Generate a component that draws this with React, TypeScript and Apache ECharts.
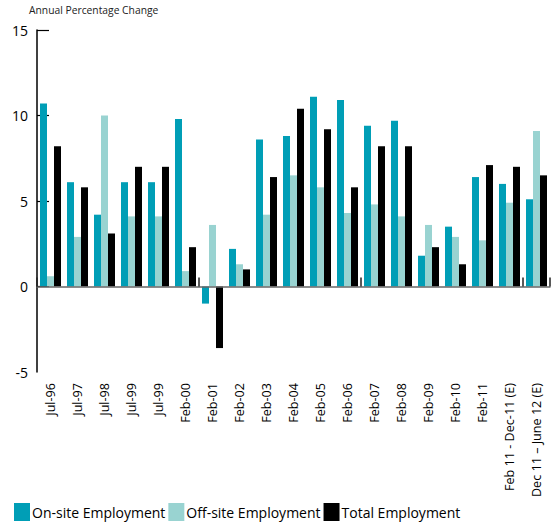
import React, { useEffect, useRef } from "react";
import * as echarts from "echarts";

const categories = [
  "Jul-96", "Jul-97", "Jul-98", "Jul-99", "Jul-99", "Feb-00", "Feb-01", "Feb-02",
  "Feb-03", "Feb-04", "Feb-05", "Feb-06", "Feb-07", "Feb-08", "Feb-09", "Feb-10",
  "Feb-11", "Feb 11 - Dec-11 (E)", "Dec 11 \u2013 June 12 (E)",
];
const onSite = [10.7, 6.1, 4.2, 6.1, 6.1, 9.8, -1.0, 2.2, 8.6, 8.8, 11.1, 10.9, 9.4, 9.7, 1.8, 3.5, 6.4, 6.0, 5.1];
const offSite = [0.6, 2.9, 10.0, 4.1, 4.1, 0.9, 3.6, 1.3, 4.2, 6.5, 5.8, 4.3, 4.8, 4.1, 3.6, 2.9, 2.7, 4.9, 9.1];
const total = [8.2, 5.8, 3.1, 7.0, 7.0, 2.3, -3.6, 1.0, 6.4, 10.4, 9.2, 5.8, 8.2, 8.2, 2.3, 1.3, 7.1, 7.0, 6.5];
const yTicks = [0, 5, 10, 15];

const FONT = "'Open Sans', 'Noto Sans', sans-serif";

export default function App() {
  const ref = useRef<HTMLDivElement>(null);
  useEffect(() => {
    if (!ref.current) return;
    const chart = echarts.init(ref.current, null, { renderer: "svg" });
    chart.setOption({
      animation: false,
      textStyle: { fontFamily: FONT },
      title: {
        text: "Annual Percentage Change",
        left: 29,
        top: 5,
        padding: 0,
        textStyle: { fontSize: 10.3, fontWeight: "normal", color: "#222", fontFamily: FONT },
      },
      legend: {
        left: 14,
        top: 503,
        padding: 0,
        icon: "rect",
        itemWidth: 16,
        itemHeight: 18,
        itemGap: 3,
        textStyle: { fontSize: 14, color: "#000", fontFamily: FONT, padding: [0, 0, 0, -3] },
        data: ["On-site Employment", "Off-site Employment", "Total Employment"],
      },
      grid: [
        { left: 37, right: 7, top: 30, bottom: 154 },
        { left: 37, right: 7, top: 30, bottom: 154 },
      ],
      xAxis: [
        {
          type: "category",
          gridIndex: 0,
          data: categories,
          z: 10,
          axisLine: { onZero: true, lineStyle: { color: "#666", width: 1.5 } },
          axisTick: { show: true, inside: true, length: 9, lineStyle: { color: "#222", width: 1.5 } },
          axisLabel: { show: false },
        },
        {
          type: "category",
          gridIndex: 1,
          data: categories,
          position: "bottom",
          axisLine: { show: false, onZero: false },
          axisTick: { show: false },
          axisLabel: { rotate: 90, fontSize: 12.6, color: "#000", margin: 11, interval: 0, fontFamily: FONT },
        },
      ],
      yAxis: [
        {
          type: "value",
          gridIndex: 0,
          min: -5,
          max: 15,
          interval: 5,
          axisLine: { show: true, lineStyle: { color: "#000", width: 1.5 } },
          axisTick: { show: true, inside: true, length: 12, customValues: yTicks, lineStyle: { color: "#000", width: 1.2 } },
          splitLine: { show: false },
          axisLabel: { fontSize: 14, color: "#000", margin: 9, fontFamily: FONT },
        },
        { type: "value", gridIndex: 1, min: -5, max: 15, show: false },
      ],
      series: [
        { name: "On-site Employment", type: "bar", data: onSite, barWidth: 7, barGap: "0%", itemStyle: { color: "#009EB6" } },
        { name: "Off-site Employment", type: "bar", data: offSite, barWidth: 7, barGap: "0%", itemStyle: { color: "#99D3D1" } },
        { name: "Total Employment", type: "bar", data: total, barWidth: 7, barGap: "0%", itemStyle: { color: "#000000" } },
      ],
    });
    return () => chart.dispose();
  }, []);
  return <div ref={ref} style={{ width: 557, height: 526, position: "absolute", left: 0, top: 0 }} />;
}
